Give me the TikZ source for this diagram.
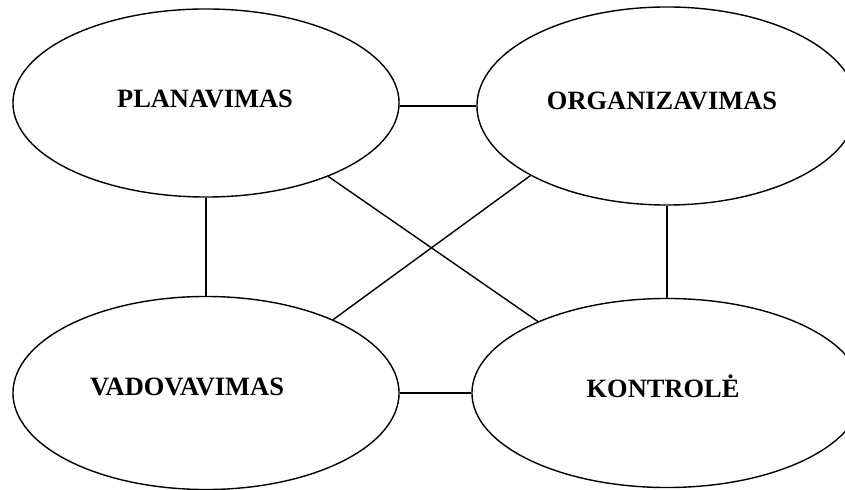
\documentclass[tikz,border=0pt]{standalone}
\usepackage{fontspec}
\setmainfont{Liberation Serif}
\usetikzlibrary{shapes.geometric}

\begin{document}
\begin{tikzpicture}[x=0.025cm,y=-0.025cm,
    func/.style={ellipse,draw,line width=1pt,inner sep=0pt},
    functxt/.style={font=\fontsize{18.8}{22}\selectfont\bfseries,anchor=base,inner sep=0pt},
    link/.style={line width=1pt}]
      \clip (0,0) rectangle (845,490);
      % the four functions
      \node[func,minimum width=9.65cm,minimum height=4.7cm] (plan) at (206,103) {};
      \node[func,minimum width=9.5cm,minimum height=4.95cm] (org) at (667,106) {};
      \node[func,minimum width=9.65cm,minimum height=4.825cm] (vad) at (206,393) {};
      \node[func,minimum width=9.75cm,minimum height=4.725cm] (kon) at (667,393) {};
      % labels
      \node[functxt] (plantxt) at (205,108) {PLANAVIMAS};
      \node[functxt] (orgtxt) at (662,110) {ORGANIZAVIMAS};
      \node[functxt] (vadtxt) at (187,395) {VADOVAVIMAS};
      \node[functxt] (kontxt) at (663,397) {KONTROLĖ};
      % links
      \draw[link] (org.west -| plan.east) -- (org.west);
      \draw[link] (vad.east) -- (kon.west);
      \draw[link] (plan.south) -- (vad.north);
      \draw[link] (org.south) -- (kon.north);
      \draw[link] (plan.-31) -- (kon.151);
      \draw[link] (org.-153) -- (vad.30);
\end{tikzpicture}
\end{document}
